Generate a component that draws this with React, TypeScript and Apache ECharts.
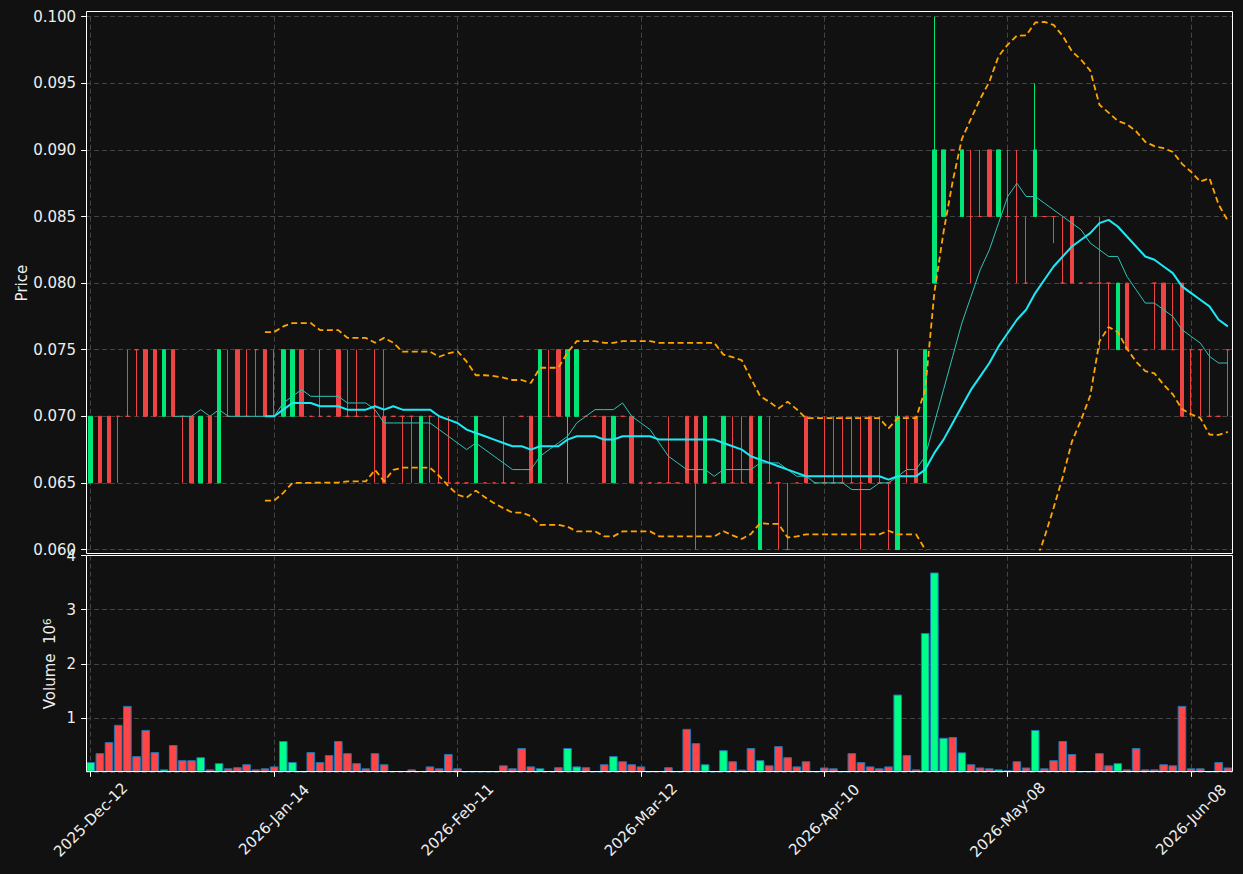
import React, { useEffect, useRef } from "react";
import * as echarts from "echarts";

// ---------- data ----------
const tickLabels = [
  "2025-Dec-12",
  "2026-Jan-14",
  "2026-Feb-11",
  "2026-Mar-12",
  "2026-Apr-10",
  "2026-May-08",
  "2026-Jun-08",
];
const TICK_EVERY = 20;

const opens = [
  0.065, 0.070, 0.070, 0.070, 0.070, 0.075, 0.075, 0.075, 0.070, 0.075,
  0.070, 0.070, 0.065, 0.070, 0.065, 0.070, 0.075, 0.070, 0.075, 0.075,
  0.070, 0.070, 0.070, 0.075, 0.070, 0.070, 0.070, 0.075, 0.070, 0.070,
  0.070, 0.070, 0.070, 0.070, 0.070, 0.070, 0.065, 0.070, 0.065, 0.065,
  0.065, 0.065, 0.065, 0.065, 0.065, 0.065, 0.065, 0.070, 0.070, 0.065,
  0.070, 0.075, 0.070, 0.070, 0.070, 0.070, 0.070, 0.065, 0.070, 0.070,
  0.065, 0.065, 0.065, 0.065, 0.065, 0.070, 0.070, 0.065, 0.065, 0.065,
  0.065, 0.065, 0.070, 0.060, 0.065, 0.065, 0.060, 0.065, 0.070, 0.065,
  0.065, 0.065, 0.065, 0.065, 0.065, 0.070, 0.065, 0.065, 0.060, 0.070,
  0.070, 0.065, 0.080, 0.085, 0.090, 0.085, 0.085, 0.085, 0.090, 0.085,
  0.085, 0.085, 0.080, 0.085, 0.085, 0.085, 0.080, 0.085, 0.080, 0.080,
  0.080, 0.080, 0.075, 0.080, 0.075, 0.075, 0.080, 0.080, 0.075, 0.080,
  0.075, 0.075, 0.070, 0.070, 0.075,
];
const closes = [
  0.070, 0.065, 0.065, 0.070, 0.070, 0.075, 0.070, 0.070, 0.075, 0.070,
  0.070, 0.065, 0.070, 0.065, 0.075, 0.070, 0.070, 0.070, 0.075, 0.070,
  0.070, 0.075, 0.075, 0.070, 0.070, 0.070, 0.070, 0.070, 0.070, 0.070,
  0.070, 0.070, 0.065, 0.070, 0.070, 0.070, 0.070, 0.070, 0.065, 0.065,
  0.065, 0.065, 0.070, 0.065, 0.065, 0.065, 0.065, 0.070, 0.065, 0.075,
  0.070, 0.070, 0.075, 0.075, 0.070, 0.070, 0.065, 0.070, 0.070, 0.065,
  0.065, 0.065, 0.065, 0.065, 0.065, 0.065, 0.065, 0.070, 0.065, 0.070,
  0.065, 0.065, 0.065, 0.070, 0.065, 0.065, 0.060, 0.065, 0.065, 0.065,
  0.065, 0.065, 0.065, 0.065, 0.065, 0.065, 0.065, 0.065, 0.070, 0.070,
  0.065, 0.075, 0.090, 0.090, 0.090, 0.090, 0.085, 0.085, 0.085, 0.090,
  0.085, 0.085, 0.080, 0.090, 0.085, 0.085, 0.080, 0.080, 0.080, 0.080,
  0.080, 0.080, 0.080, 0.075, 0.075, 0.075, 0.080, 0.075, 0.075, 0.070,
  0.075, 0.075, 0.070, 0.070, 0.075,
];
const highs = [
  0.070, 0.070, 0.070, 0.070, 0.075, 0.075, 0.075, 0.075, 0.075, 0.075,
  0.070, 0.070, 0.070, 0.070, 0.075, 0.075, 0.075, 0.075, 0.075, 0.075,
  0.075, 0.075, 0.075, 0.075, 0.070, 0.075, 0.070, 0.075, 0.075, 0.075,
  0.070, 0.075, 0.075, 0.070, 0.070, 0.070, 0.070, 0.070, 0.070, 0.070,
  0.065, 0.065, 0.070, 0.065, 0.065, 0.070, 0.065, 0.070, 0.070, 0.075,
  0.075, 0.075, 0.075, 0.075, 0.070, 0.070, 0.070, 0.070, 0.070, 0.070,
  0.065, 0.065, 0.065, 0.070, 0.065, 0.070, 0.070, 0.070, 0.065, 0.070,
  0.070, 0.070, 0.070, 0.070, 0.070, 0.065, 0.065, 0.065, 0.070, 0.065,
  0.070, 0.070, 0.070, 0.070, 0.070, 0.070, 0.070, 0.065, 0.075, 0.070,
  0.070, 0.075, 0.100, 0.090, 0.090, 0.090, 0.090, 0.090, 0.090, 0.090,
  0.090, 0.090, 0.085, 0.095, 0.085, 0.085, 0.085, 0.085, 0.080, 0.080,
  0.085, 0.080, 0.080, 0.080, 0.075, 0.075, 0.080, 0.080, 0.080, 0.080,
  0.075, 0.075, 0.075, 0.070, 0.075,
];
const lows = [
  0.065, 0.065, 0.065, 0.065, 0.070, 0.070, 0.070, 0.070, 0.070, 0.070,
  0.065, 0.065, 0.065, 0.065, 0.065, 0.070, 0.070, 0.070, 0.070, 0.070,
  0.070, 0.070, 0.070, 0.070, 0.070, 0.070, 0.070, 0.070, 0.070, 0.070,
  0.070, 0.065, 0.065, 0.070, 0.065, 0.065, 0.065, 0.065, 0.065, 0.065,
  0.065, 0.065, 0.065, 0.065, 0.065, 0.065, 0.065, 0.070, 0.065, 0.065,
  0.070, 0.070, 0.065, 0.070, 0.070, 0.070, 0.065, 0.065, 0.070, 0.065,
  0.065, 0.065, 0.065, 0.065, 0.065, 0.065, 0.060, 0.065, 0.065, 0.065,
  0.065, 0.065, 0.065, 0.060, 0.065, 0.060, 0.060, 0.065, 0.065, 0.065,
  0.065, 0.065, 0.065, 0.065, 0.060, 0.065, 0.065, 0.060, 0.060, 0.065,
  0.065, 0.065, 0.080, 0.085, 0.090, 0.085, 0.080, 0.085, 0.085, 0.085,
  0.085, 0.080, 0.080, 0.085, 0.085, 0.083, 0.080, 0.080, 0.080, 0.080,
  0.075, 0.075, 0.075, 0.075, 0.075, 0.075, 0.075, 0.075, 0.075, 0.070,
  0.070, 0.070, 0.070, 0.070, 0.070,
];
// volume, in millions
const volumesM = [
  0.18, 0.345, 0.55, 0.87, 1.22, 0.29, 0.775, 0.365, 0.045, 0.495,
  0.215, 0.215, 0.27, 0.045, 0.16, 0.065, 0.085, 0.14, 0.045, 0.065,
  0.1, 0.57, 0.18, 0.005, 0.365, 0.18, 0.31, 0.57, 0.345, 0.16,
  0.065, 0.345, 0.14, 0.01, 0.01, 0.045, 0.01, 0.1, 0.065, 0.33,
  0.065, 0.005, 0.005, 0.005, 0.005, 0.12, 0.065, 0.44, 0.1, 0.065,
  0.01, 0.085, 0.44, 0.1, 0.085, 0.005, 0.14, 0.29, 0.195, 0.14,
  0.1, 0.005, 0.01, 0.085, 0.005, 0.795, 0.53, 0.14, 0.005, 0.4,
  0.195, 0.04, 0.44, 0.215, 0.12, 0.475, 0.27, 0.1, 0.195, 0.005,
  0.08, 0.065, 0.005, 0.345, 0.18, 0.1, 0.065, 0.1, 1.43, 0.31,
  0.045, 2.57, 3.69, 0.63, 0.645, 0.36, 0.14, 0.08, 0.065, 0.045,
  0.03, 0.195, 0.08, 0.775, 0.065, 0.215, 0.57, 0.33, 0.005, 0.005,
  0.345, 0.12, 0.16, 0.045, 0.44, 0.045, 0.045, 0.14, 0.12, 1.22,
  0.065, 0.065, 0.005, 0.18, 0.08,
];

// ---------- style ----------
const BG = "#111111";
const CANDLE_UP = "#00e676";
const CANDLE_DOWN = "#ef4444";
const VOL_UP = "#00ff88";
const VOL_DOWN = "#ff4545";
const VOL_EDGE = "#1f77b4";
const GRID_COLOR = "#444444";
const TEXT_COLOR = "#eeeeee";
const FONT = "DejaVu Sans";
const FS = 15;

function rollingMean(arr: number[], n: number): (number | string)[] {
  return arr.map((_, i) => {
    if (i < n - 1) return "-";
    let s = 0;
    for (let k = i - n + 1; k <= i; k++) s += arr[k];
    return s / n;
  });
}
function rollingBand(arr: number[], n: number, k: number, sign: number): (number | string)[] {
  return arr.map((_, i) => {
    if (i < n - 1) return "-";
    let s = 0;
    for (let j = i - n + 1; j <= i; j++) s += arr[j];
    const m = s / n;
    let v = 0;
    for (let j = i - n + 1; j <= i; j++) v += (arr[j] - m) * (arr[j] - m);
    return m + sign * k * Math.sqrt(v / n);
  });
}

export default function App() {
  const ref = useRef<HTMLDivElement>(null);

  useEffect(() => {
    document.body.style.margin = "0";
    document.body.style.background = BG;
    if (!ref.current) return;
    const chart = echarts.init(ref.current, undefined, { renderer: "svg" });

    const cats = closes.map((_, i) => String(i));
    const isTick = (index: number) => index % TICK_EVERY === 0;

    const candleData = closes.map((c, i) => {
      const up = c > opens[i];
      const col = up ? CANDLE_UP : CANDLE_DOWN;
      return {
        value: [opens[i], c, lows[i], highs[i]],
        itemStyle: { color: col, color0: col, borderColor: col, borderColor0: col, borderColorDoji: col },
      };
    });
    const volData = volumesM.map((v, i) => ({
      value: v,
      itemStyle: { color: closes[i] > opens[i] ? VOL_UP : VOL_DOWN },
    }));

    const ma10 = rollingMean(closes, 10);
    const ma20 = rollingMean(closes, 20);
    const bbUp = rollingBand(closes, 20, 2, 1);
    const bbLow = rollingBand(closes, 20, 2, -1);

    const splitLine = {
      show: true,
      interval: isTick,
      alignWithLabel: true,
      lineStyle: { color: GRID_COLOR, type: [5, 3], width: 1 },
    };
    const ySplit = {
      show: true,
      lineStyle: { color: GRID_COLOR, type: [5, 3], width: 1 },
    };

    const option: any = {
      animation: false,
      backgroundColor: BG,
      textStyle: { fontFamily: FONT },
      grid: [
        { left: 86.1, width: 1146.3, top: 16.7, height: 532.8 },
        { left: 86.1, width: 1146.3, top: 555.7, height: 216.1 },
      ],
      xAxis: [
        {
          type: "category",
          gridIndex: 0,
          data: cats,
          boundaryGap: true,
          axisLine: { show: false },
          axisTick: { show: false },
          axisLabel: { show: false },
          splitLine,
        },
        {
          type: "category",
          gridIndex: 1,
          data: cats,
          boundaryGap: true,
          axisLine: { show: false },
          axisTick: {
            show: true,
            interval: isTick,
            alignWithLabel: true,
            length: 5,
            lineStyle: { color: "#ffffff", width: 1 },
          },
          axisLabel: {
            show: true,
            interval: isTick,
            rotate: 45,
            align: "center",
            verticalAlign: "middle",
            margin: 48,
            color: TEXT_COLOR,
            fontSize: FS,
            fontFamily: FONT,
            formatter: (v: string) => tickLabels[Number(v) / TICK_EVERY] ?? "",
          },
          splitLine,
        },
      ],
      yAxis: [
        {
          type: "value",
          gridIndex: 0,
          min: 0.06,
          max: 0.1,
          interval: 0.005,
          axisLine: { show: false },
          axisTick: { show: true, length: 5, lineStyle: { color: "#ffffff" } },
          axisLabel: {
            color: TEXT_COLOR,
            fontSize: FS,
            fontFamily: FONT,
            margin: 10,
            formatter: (v: number) => v.toFixed(3),
          },
          splitLine: ySplit,
          name: "Price",
          nameLocation: "middle",
          nameRotate: 90,
          nameGap: 57,
          nameMoveOverlap: false,
          nameTextStyle: { color: TEXT_COLOR, fontSize: FS, fontFamily: FONT },
        },
        {
          type: "value",
          gridIndex: 1,
          min: 0,
          max: 4,
          interval: 1,
          axisLine: { show: false },
          axisTick: { show: true, length: 5, lineStyle: { color: "#ffffff" } },
          axisLabel: {
            color: TEXT_COLOR,
            fontSize: FS,
            fontFamily: FONT,
            margin: 10,
            showMinLabel: false,
          },
          splitLine: ySplit,
          name: "Volume  10{sup|6}",
          nameLocation: "middle",
          nameRotate: 90,
          nameGap: 27,
          nameMoveOverlap: false,
          nameTextStyle: {
            color: TEXT_COLOR,
            fontSize: FS,
            fontFamily: FONT,
            lineHeight: 18,
            rich: {
              sup: { fontSize: 10.5, color: TEXT_COLOR, fontFamily: FONT, verticalAlign: "top", lineHeight: 18 },
            },
          },
        },
      ],
      graphic: [
        {
          type: "rect",
          silent: true,
          z: 100,
          shape: { x: 86.5, y: 11.5, width: 1146, height: 542 },
          style: { fill: "none", stroke: "#ffffff", lineWidth: 1 },
        },
        {
          type: "rect",
          silent: true,
          z: 100,
          shape: { x: 86.5, y: 555.5, width: 1146, height: 216 },
          style: { fill: "none", stroke: "#ffffff", lineWidth: 1 },
        },
      ],
      series: [
        {
          type: "candlestick",
          name: "OHLC",
          xAxisIndex: 0,
          yAxisIndex: 0,
          barWidth: 4,
          data: candleData,
          itemStyle: { borderWidth: 1 },
        },
        {
          type: "line",
          name: "MA10",
          xAxisIndex: 0,
          yAxisIndex: 0,
          data: ma10,
          showSymbol: false,
          lineStyle: { color: "#2ec4b6", width: 1 },
          z: 3,
        },
        {
          type: "line",
          name: "MA20",
          xAxisIndex: 0,
          yAxisIndex: 0,
          data: ma20,
          showSymbol: false,
          lineStyle: { color: "#1de9f6", width: 2 },
          z: 4,
        },
        {
          type: "line",
          name: "BB upper",
          xAxisIndex: 0,
          yAxisIndex: 0,
          data: bbUp,
          showSymbol: false,
          lineStyle: { color: "#ffa500", width: 1.8, type: [6, 3.5] },
          z: 5,
        },
        {
          type: "line",
          name: "BB lower",
          xAxisIndex: 0,
          yAxisIndex: 0,
          data: bbLow,
          showSymbol: false,
          lineStyle: { color: "#ffa500", width: 1.8, type: [6, 3.5] },
          z: 5,
        },
        {
          type: "bar",
          name: "Volume",
          xAxisIndex: 1,
          yAxisIndex: 1,
          data: volData,
          barWidth: "94%",
          itemStyle: { borderColor: VOL_EDGE, borderWidth: 1 },
        },
      ],
    };

    chart.setOption(option);
    return () => chart.dispose();
  }, []);

  return <div ref={ref} style={{ width: 1243, height: 874 }} />;
}
